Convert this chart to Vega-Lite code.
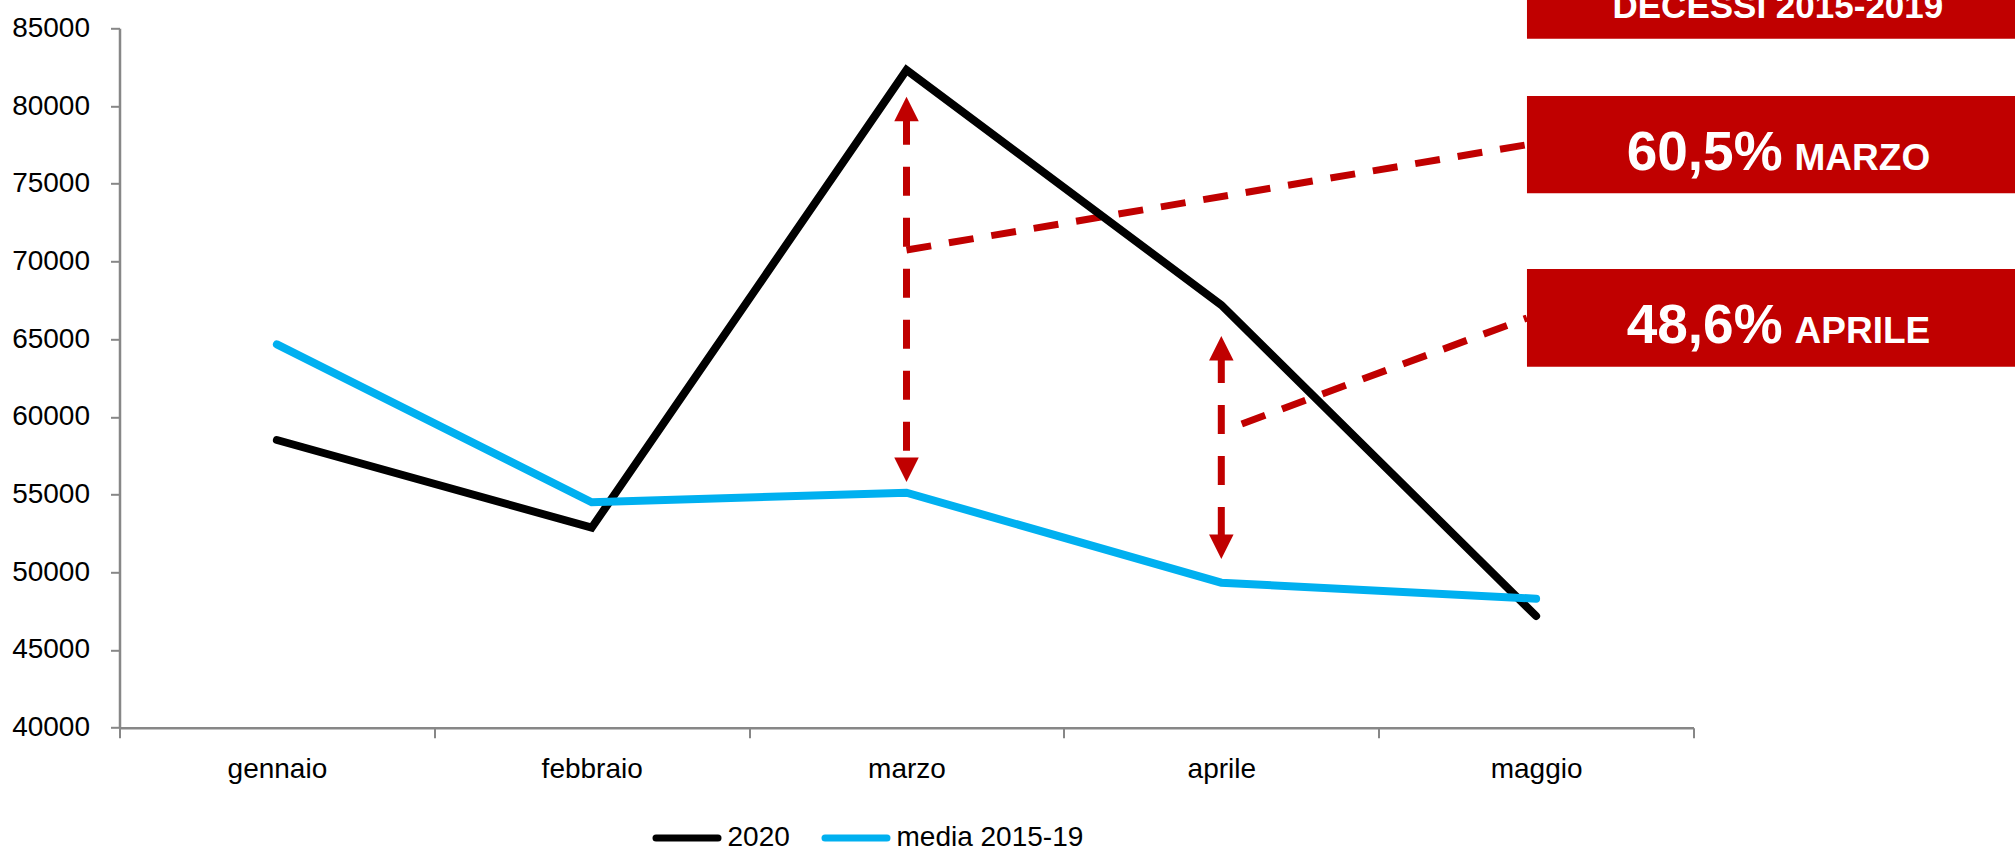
{
  "$schema": "https://vega.github.io/schema/vega-lite/v6.json",
  "autosize": {"type": "none"},
  "width": 1574,
  "height": 699.4,
  "padding": {"left": 119.5, "top": 28.3, "right": 321.5, "bottom": 123.3},
  "background": "white",
  "config": {
    "view": {"stroke": null},
    "font": "Liberation Sans, Arial, sans-serif"
  },
  "datasets": {
    "decessi": [
      {"mese": "gennaio", "i": 0, "serie": "2020", "valore": 58510},
      {"mese": "febbraio", "i": 1, "serie": "2020", "valore": 52867},
      {"mese": "marzo", "i": 2, "serie": "2020", "valore": 82317},
      {"mese": "aprile", "i": 3, "serie": "2020", "valore": 67197},
      {"mese": "maggio", "i": 4, "serie": "2020", "valore": 47186},
      {"mese": "gennaio", "i": 0, "serie": "media 2015-19", "valore": 64668},
      {"mese": "febbraio", "i": 1, "serie": "media 2015-19", "valore": 54502},
      {"mese": "marzo", "i": 2, "serie": "media 2015-19", "valore": 55120},
      {"mese": "aprile", "i": 3, "serie": "media 2015-19", "valore": 49329},
      {"mese": "maggio", "i": 4, "serie": "media 2015-19", "valore": 48299}
    ],
    "frecce": [
      {"id": "marzo", "i": 2, "da": 79376, "a": 57204},
      {"id": "aprile", "i": 3, "da": 64044, "a": 52250}
    ],
    "punte": [
      {"id": "marzo", "i": 2, "v": 80599, "dir": "su"},
      {"id": "marzo", "i": 2, "v": 55808, "dir": "giu"},
      {"id": "aprile", "i": 3, "v": 65202, "dir": "su"},
      {"id": "aprile", "i": 3, "v": 50852, "dir": "giu"}
    ],
    "connettori": [
      {"id": "marzo", "ord": 0, "i": 2.0, "v": 70735},
      {"id": "marzo", "ord": 1, "i": 3.971, "v": 77511},
      {"id": "aprile", "ord": 0, "i": 3.065, "v": 59540},
      {"id": "aprile", "ord": 1, "i": 3.971, "v": 66360}
    ],
    "riquadri": [
      {"id": "titolo", "i1": 3.971, "i2": 5.57, "v1": 88751, "v2": 84331},
      {"id": "marzo", "i1": 3.971, "i2": 5.57, "v1": 80644, "v2": 74383},
      {"id": "aprile", "i1": 3.971, "i2": 5.57, "v1": 69513, "v2": 63227}
    ],
    "testi": [
      {"tipo": "titolo", "testo": "DECESSI 2015-2019", "i": 4.768, "v": 85643},
      {"tipo": "grande", "testo": "60,5%", "i": 4.783, "v": 75851},
      {"tipo": "piccolo", "testo": "MARZO", "i": 4.821, "v": 75851},
      {"tipo": "grande", "testo": "48,6%", "i": 4.783, "v": 64751},
      {"tipo": "piccolo", "testo": "APRILE", "i": 4.821, "v": 64751}
    ]
  },
  "layer": [
    {
      "data": {"name": "connettori"},
      "mark": {"type": "line", "color": "#C00000", "strokeWidth": 7, "strokeDash": [25, 18], "strokeCap": "butt"},
      "encoding": {
        "x": {"field": "i", "type": "quantitative", "title": null},
        "y": {"field": "v", "type": "quantitative", "title": null},
        "detail": {"field": "id"},
        "order": {"field": "ord"}
      }
    },
    {
      "data": {"name": "frecce"},
      "mark": {"type": "rule", "color": "#C00000", "strokeWidth": 7, "strokeDash": [29, 22], "strokeCap": "butt"},
      "encoding": {
        "x": {"field": "i", "type": "quantitative", "title": null},
        "y": {"field": "da", "type": "quantitative", "title": null},
        "y2": {"field": "a"}
      }
    },
    {
      "data": {"name": "punte"},
      "mark": {"type": "point", "filled": true, "color": "#C00000", "opacity": 1, "size": 600, "strokeWidth": 0},
      "encoding": {
        "x": {"field": "i", "type": "quantitative", "title": null},
        "y": {"field": "v", "type": "quantitative", "title": null},
        "shape": {"field": "dir", "type": "nominal", "legend": null,
          "scale": {"domain": ["su", "giu"], "range": ["M0,0L-1,2L1,2Z", "M0,0L-1,-2L1,-2Z"]}}
      }
    },
    {
      "data": {"name": "decessi"},
      "mark": {"type": "line", "strokeWidth": 8, "strokeCap": "round", "strokeJoin": "miter"},
      "encoding": {
        "x": {
          "field": "i", "type": "quantitative", "title": null,
          "scale": {"domain": [-0.5, 4.5], "nice": false, "zero": false},
          "axis": {
            "values": [-0.5, 0, 0.5, 1, 1.5, 2, 2.5, 3, 3.5, 4, 4.5],
            "labelExpr": "datum.value % 1 === 0 ? ['gennaio','febbraio','marzo','aprile','maggio'][datum.value] : ''",
            "grid": false,
            "domainColor": "#878787", "domainWidth": 2.5,
            "tickColor": "#878787", "tickWidth": 2, "tickSize": 10,
            "tickOpacity": {"condition": {"test": "datum.value % 1 === 0", "value": 0}, "value": 1},
            "labelFontSize": 28, "labelColor": "#000000",
            "labelBaseline": "alphabetic", "labelPadding": 40,
            "labelOverlap": false, "labelBound": false, "labelFlush": false
          }
        },
        "y": {
          "field": "valore", "type": "quantitative", "title": null,
          "scale": {"domain": [40000, 85000], "nice": false, "zero": false},
          "axis": {
            "values": [40000, 45000, 50000, 55000, 60000, 65000, 70000, 75000, 80000, 85000],
            "format": "d", "grid": false,
            "domainColor": "#878787", "domainWidth": 2.5,
            "tickColor": "#878787", "tickWidth": 2, "tickSize": 9,
            "labelFontSize": 28, "labelColor": "#000000", "labelPadding": 21,
            "labelOverlap": false, "labelBound": false, "labelFlush": false
          }
        },
        "color": {
          "field": "serie", "type": "nominal",
          "scale": {"domain": ["2020", "media 2015-19"], "range": ["#000000", "#00B0F0"]},
          "legend": {
            "orient": "none", "legendX": 533, "legendY": 775, "direction": "horizontal",
            "title": null, "symbolType": "stroke", "symbolSize": 3844, "symbolStrokeWidth": 7,
            "labelFontSize": 28, "labelColor": "#000000", "labelOffset": 6, "columnPadding": 20,
            "labelLimit": 500,
            "encode": {"symbols": {"update": {"strokeCap": {"value": "round"}}}}
          }
        }
      }
    },
    {
      "data": {"name": "riquadri"},
      "mark": {"type": "rect", "color": "#C00000", "opacity": 1},
      "encoding": {
        "x": {"field": "i1", "type": "quantitative", "title": null},
        "x2": {"field": "i2"},
        "y": {"field": "v1", "type": "quantitative", "title": null},
        "y2": {"field": "v2"}
      }
    },
    {
      "data": {"name": "testi"},
      "transform": [{"filter": "datum.tipo === 'titolo'"}],
      "mark": {"type": "text", "color": "#FFFFFF", "fontSize": 35, "fontWeight": "bold", "align": "center", "baseline": "alphabetic"},
      "encoding": {
        "x": {"field": "i", "type": "quantitative", "title": null},
        "y": {"field": "v", "type": "quantitative", "title": null},
        "text": {"field": "testo"}
      }
    },
    {
      "data": {"name": "testi"},
      "transform": [{"filter": "datum.tipo === 'grande'"}],
      "mark": {"type": "text", "color": "#FFFFFF", "fontSize": 55, "fontWeight": "bold", "align": "right", "baseline": "alphabetic"},
      "encoding": {
        "x": {"field": "i", "type": "quantitative", "title": null},
        "y": {"field": "v", "type": "quantitative", "title": null},
        "text": {"field": "testo"}
      }
    },
    {
      "data": {"name": "testi"},
      "transform": [{"filter": "datum.tipo === 'piccolo'"}],
      "mark": {"type": "text", "color": "#FFFFFF", "fontSize": 37, "fontWeight": "bold", "align": "left", "baseline": "alphabetic"},
      "encoding": {
        "x": {"field": "i", "type": "quantitative", "title": null},
        "y": {"field": "v", "type": "quantitative", "title": null},
        "text": {"field": "testo"}
      }
    }
  ]
}
